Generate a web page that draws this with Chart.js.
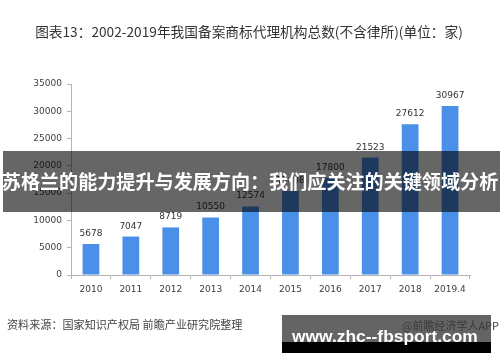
<!DOCTYPE html>
<html>
<head>
<meta charset="utf-8">
<script src="https://cdn.jsdelivr.net/npm/chart.js@4"></script>
<style>
    body { margin: 0; background: #fff; }
    #wrap { position: relative; width: 500px; height: 362px; overflow: hidden; }
    #grafico { position: absolute; left: 0; top: 0; }
    .txt { position: absolute; white-space: nowrap; font-family: "Noto Sans CJK SC", "Noto Sans", sans-serif; }
    #titulo { left: 0; width: 498px; top: 22px; text-align: center; font-size: 13.7px; color: #333; line-height: 18px; }
    #faixa { position: absolute; left: 3px; right: 0; top: 151px; height: 61px; background: rgba(0, 0, 0, 0.6); }
    #faixaTexto { left: 0; width: 500px; top: 166px; text-align: center; font-size: 19.1px; font-weight: bold; color: #fff; line-height: 30px; }
    #fonte { left: 7px; top: 316px; font-size: 11.1px; color: #444; line-height: 16px; }
    #caixa { position: absolute; left: 282px; top: 315px; width: 209px; height: 27px; background: #646464; }
    #caixaPreta { position: absolute; left: 282px; top: 342px; width: 209px; height: 11px; background: #000; }
    #app { left: 402px; top: 318px; font-size: 11px; color: #3a3a3a; line-height: 14px; }
    #site { left: 292px; top: 326px; font-family: "Liberation Sans", Arial, sans-serif; font-size: 17.4px; font-weight: bold; color: #fff; line-height: 20px; }
</style>
</head>
<body>
<div id="wrap">
    <canvas id="grafico" width="500" height="362"></canvas>
    <div id="titulo" class="txt">图表13：2002-2019年我国备案商标代理机构总数(不含律所)(单位：家)</div>
    <div id="faixa"></div>
    <div id="faixaTexto" class="txt">苏格兰的能力提升与发展方向：我们应关注的关键领域分析</div>
    <div id="fonte" class="txt">资料来源：国家知识产权局 前瞻产业研究院整理</div>
    <div id="caixa"></div>
    <div id="caixaPreta"></div>
    <div id="app" class="txt">@前瞻经济学人APP</div>
    <div id="site" class="txt">www.zhc--fbsport.com</div>
</div>
<script>
const anos = ['2010', '2011', '2012', '2013', '2014', '2015', '2016', '2017', '2018', '2019.4'];
const totalAgencias = [5678, 7047, 8719, 10550, 12574, 15408, 17800, 21523, 27612, 30967];
const eixoMax = 35000;
const eixoPasso = 5000;

const corBarra = '#4a8fe8';
const corEixo = '#b4b4b4';
const corTexto = '#404040';

// rotulos em cima das barras
const rotulosPlugin = {
    id: 'rotulos',
    afterDatasetsDraw: (chart) => {
        const ctx = chart.ctx;
        const meta = chart.getDatasetMeta(0);
        ctx.save();
        ctx.font = '9px "DejaVu Sans"';
        ctx.fillStyle = '#333';
        ctx.textAlign = 'center';
        ctx.textBaseline = 'alphabetic';
        meta.data.forEach(function(barra, i) {
            ctx.fillText(String(totalAgencias[i]), barra.x, barra.y - 8);
        });
        ctx.restore();
    }
};

const ctx = document.getElementById('grafico').getContext('2d');
new Chart(ctx, {
    type: 'bar',
    data: {
        labels: anos,
        datasets: [{
            data: totalAgencias,
            backgroundColor: corBarra,
            categoryPercentage: 1,
            barPercentage: 0.42
        }]
    },
    options: {
        responsive: false,
        animation: false,
        devicePixelRatio: 1,
        layout: { padding: { left: 0, right: 30, top: 84, bottom: 62 } },
        plugins: {
            legend: { display: false },
            tooltip: { enabled: false }
        },
        scales: {
            x: {
                afterFit: (scale) => { scale.height = 25; },
                grid: { drawOnChartArea: false, drawTicks: true, tickLength: 4, color: corEixo, offset: true },
                border: { display: true, color: corEixo },
                ticks: { color: corTexto, font: { family: 'DejaVu Sans', size: 9 }, padding: 5, maxRotation: 0 }
            },
            y: {
                min: 0,
                max: eixoMax,
                afterFit: (scale) => { scale.width = 71; },
                grid: { drawOnChartArea: false, drawTicks: true, tickLength: 4, color: corEixo },
                border: { display: true, color: corEixo },
                ticks: {
                    stepSize: eixoPasso,
                    color: corTexto,
                    font: { family: 'DejaVu Sans', size: 9 },
                    padding: 5,
                    callback: (valor) => String(valor)
                }
            }
        }
    },
    plugins: [rotulosPlugin]
});
</script>
</body>
</html>
